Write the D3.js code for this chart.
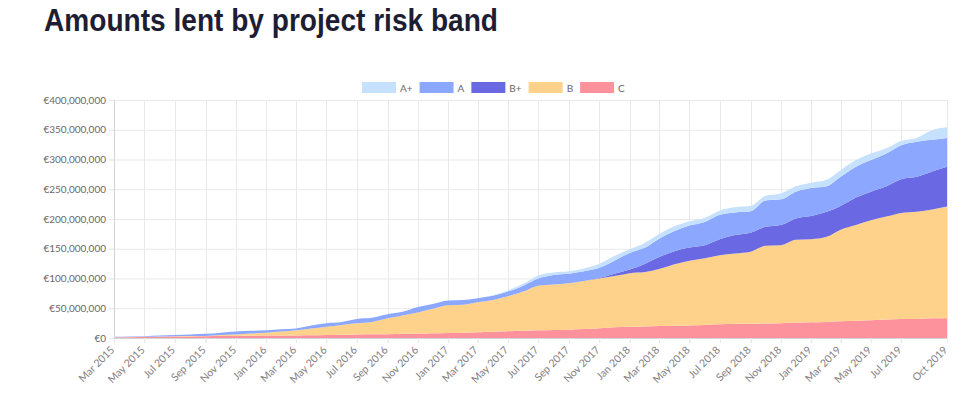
<!DOCTYPE html>
<html>
<head>
<meta charset="utf-8">
<script src="https://cdn.jsdelivr.net/npm/d3@7"></script>
<style>
  body { margin: 0; background: #fff; }
  svg { display: block; }
</style>
</head>
<body>
<div id="chart"></div>
<script>
// monthly cumulative amounts lent, in millions of euros, Mar 2015 .. Oct 2019
const firstMonth = '2015-03'
const lastMonth = '2019-10'

const bands = ['A+', 'A', 'B+', 'B', 'C']
const colors = ['#c6e1fe', '#8ba7fe', '#6a68e3', '#fed28a', '#fe929c']

const valuesC = [0.8, 1.2, 1.5, 2, 2.5, 2.7, 3, 3.2, 3.5, 3.7, 4, 4, 4.2, 4.5, 5, 5.5, 6, 6.3, 6.5, 7,
  7.5, 8, 8.5, 9, 9.5, 10.5, 11.5, 12, 13, 13.5, 14, 15, 16.5, 18, 19, 19.5, 20, 20.5, 21, 22,
  23, 24, 24, 24.5, 25, 26, 26.5, 27, 28, 29, 30, 31, 32, 32, 33, 33]
const valuesB = [0.3, 0.3, 0.5, 0.5, 0.5, 0.5, 0.5, 1.8, 2.5, 3.8, 5, 7, 8.8, 11.5, 14, 16.5, 19, 20.7, 26.5, 31,
  35.5, 41, 46.5, 47, 50.5, 53.5, 58.5, 66, 75, 76.5, 78, 81, 83.5, 86, 90, 91.5, 96, 103.5, 109, 112,
  116, 118, 121, 130.5, 131, 139, 139.5, 143, 154, 161, 168, 173, 178, 180, 183, 188]
const valuesBPlus = [0, 0, 0, 0, 0, 0, 0, 0, 0, 0, 0, 0, 0, 0, 0, 0, 0, 0, 0, 0,
  0, 0, 0, 0, 0, 0, 0, 0, 0, 0, 0, 0, 1, 4, 6, 14, 20, 22, 22, 22,
  27, 31, 32, 32, 34, 36, 39, 42, 40, 46, 48, 51, 57, 59, 64, 67]
const valuesA = [0.9, 1, 1, 1.5, 2, 2.8, 3.5, 4, 5, 4.5, 4, 3.5, 3, 5, 6, 5, 7, 7, 7, 6,
  9, 8, 8, 8, 7, 7, 8, 10, 12, 16, 16, 16, 17, 22, 28, 27, 31, 34, 37, 39,
  41, 38, 36, 44, 43, 45, 47, 43, 49, 52, 53, 55, 57, 59, 53, 48]
const valuesAPlus = [0, 0, 0, 0, 0, 0, 0, 0, 0, 0, 0, 0, 0, 0, 0, 0, 0, 0, 0, 0,
  0, 0, 0, 0, 0, 1, 2, 3, 5, 4, 4, 5, 7, 8, 6, 8, 8, 8, 7, 7,
  7, 9, 9, 8, 10, 9, 9, 11, 11, 11, 11, 9, 7, 6, 16, 18]

const yTicks = [0, 50e6, 100e6, 150e6, 200e6, 250e6, 300e6, 350e6, 400e6]

const width = 972
const height = 398
const margin = { left: 114, top: 100, right: 25, bottom: 60 }

const parseMonth = d3.timeParse('%Y-%m')
const months = d3.timeMonth.range(parseMonth(firstMonth), d3.timeMonth.offset(parseMonth(lastMonth), 1))

const tableData = months.map((m, i) => ({
  date: m,
  'C': valuesC[i] * 1e6,
  'B': valuesB[i] * 1e6,
  'B+': valuesBPlus[i] * 1e6,
  'A': valuesA[i] * 1e6,
  'A+': valuesAPlus[i] * 1e6
}))

const svg = d3.select('#chart').append('svg')
  .attr('width', width)
  .attr('height', height)

svg.append('text')
  .attr('x', 44)
  .attr('y', 31)
  .attr('font-family', 'Liberation Sans, Arial, sans-serif')
  .attr('font-weight', 'bold')
  .attr('font-size', 31)
  .attr('textLength', 454)
  .attr('lengthAdjust', 'spacingAndGlyphs')
  .attr('fill', '#1d1e33')
  .text('Amounts lent by project risk band')

const x = d3.scaleTime()
  .domain([months[0], months[months.length - 1]])
  .range([margin.left, width - margin.right])

const y = d3.scaleLinear()
  .domain([0, 400e6])
  .range([height - margin.bottom, margin.top])

// every second month, then the last month on its own
const lastDate = months[months.length - 1]
const xTicks = d3.timeMonth.every(2).range(months[0], d3.timeMonth.offset(lastDate, -2))
xTicks.push(lastDate)

const axisFont = 'Lato, sans-serif'
const gridColor = '#e9e9e9'

// horizontal grid
svg.append('g')
  .selectAll('line')
  .data(yTicks)
  .join('line')
  .attr('x1', margin.left - 5)
  .attr('x2', width - margin.right)
  .attr('y1', d => y(d) + 0.5)
  .attr('y2', d => y(d) + 0.5)
  .attr('stroke', gridColor)

// vertical grid
svg.append('g')
  .selectAll('line')
  .data(xTicks)
  .join('line')
  .attr('x1', d => Math.round(x(d)) + 0.5)
  .attr('x2', d => Math.round(x(d)) + 0.5)
  .attr('y1', margin.top)
  .attr('y2', height - margin.bottom + 5)
  .attr('stroke', gridColor)

// stacked areas, C at the bottom
const stackOrder = ['C', 'B', 'B+', 'A', 'A+']
const stacked = d3.stack().keys(stackOrder)(tableData)

const area = d3.area()
  .x(d => x(d.data.date))
  .y0(d => y(d[0]))
  .y1(d => y(d[1]))
  .curve(d3.curveMonotoneX)

svg.append('g')
  .selectAll('path')
  .data(stacked)
  .join('path')
  .attr('d', area)
  .attr('fill', d => colors[bands.indexOf(d.key)])

// axes
const xAxis = svg.append('g')
  .attr('transform', `translate(0, ${height - margin.bottom})`)
  .call(d3.axisBottom(x).tickValues(xTicks).tickFormat(d3.timeFormat('%b %Y')).tickSize(5))

xAxis.select('.domain').attr('stroke', '#d4d4d4')
xAxis.selectAll('.tick line').attr('stroke', gridColor)
xAxis.selectAll('.tick text')
  .attr('font-family', axisFont)
  .attr('font-size', 10.5)
  .attr('fill', '#847e82')
  .attr('text-anchor', 'end')
  .attr('x', 0)
  .attr('y', 0)
  .attr('dy', '0.35em')
  .attr('transform', 'translate(-2, 10) rotate(-45)')

const yAxis = svg.append('g')
  .attr('transform', `translate(${margin.left}, 0)`)
  .call(d3.axisLeft(y).tickValues(yTicks).tickSize(5).tickPadding(3)
    .tickFormat(d => '€' + d3.format(',')(d)))

yAxis.select('.domain').attr('stroke', '#d4d4d4')
yAxis.selectAll('.tick line').attr('stroke', gridColor)
yAxis.selectAll('.tick text')
  .attr('font-family', axisFont)
  .attr('font-size', 10)
  .attr('fill', '#6c666a')

// legend
const legend = svg.append('g').attr('transform', 'translate(362, 82)')
let lx = 0
bands.forEach((b, i) => {
  const item = legend.append('g').attr('transform', `translate(${lx}, 0)`)
  item.append('rect')
    .attr('width', 34)
    .attr('height', 11)
    .attr('fill', colors[i])
  const t = item.append('text')
    .attr('x', 38)
    .attr('y', 6)
    .attr('dy', '0.35em')
    .attr('font-family', axisFont)
    .attr('font-size', 10)
    .attr('fill', '#6c666a')
    .text(b)
  lx += 38 + t.node().getComputedTextLength() + 7
})
</script>
</body>
</html>
